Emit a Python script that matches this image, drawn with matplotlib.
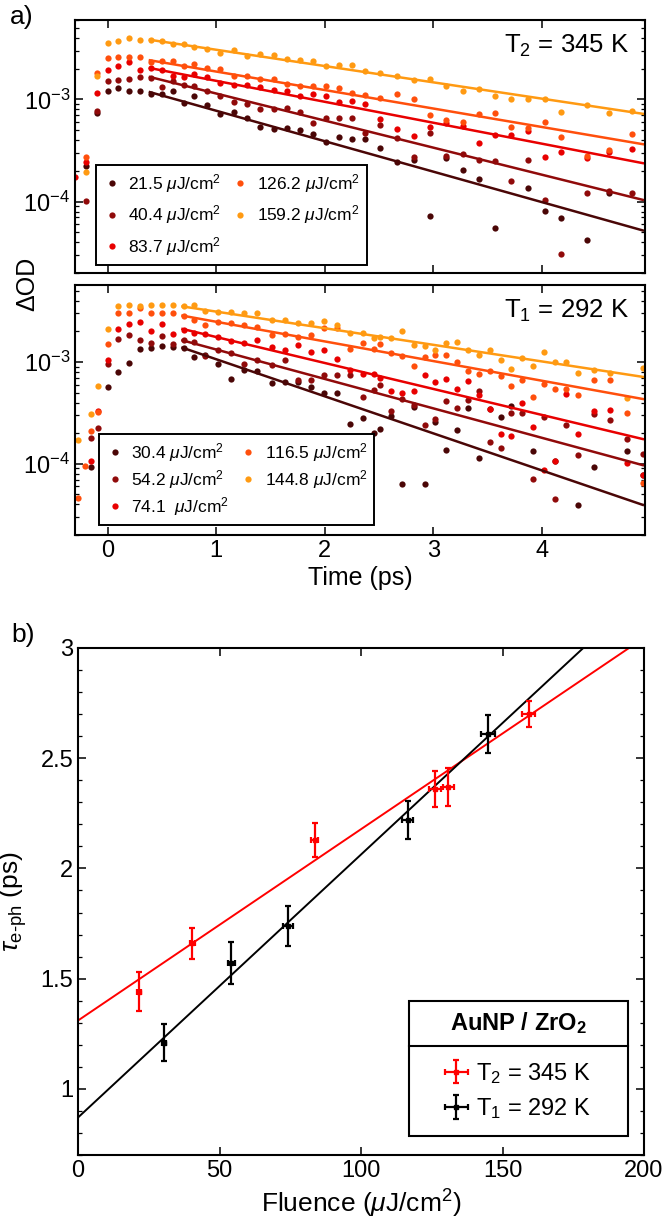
import numpy as np
import matplotlib
matplotlib.use('Agg')
import matplotlib.pyplot as plt
from matplotlib.ticker import LogLocator, NullFormatter, MultipleLocator, FixedLocator
from matplotlib.patches import Rectangle

plt.rcParams['font.family'] = ['Liberation Sans', 'DejaVu Sans']
plt.rcParams['mathtext.fontset'] = 'custom'
plt.rcParams['mathtext.rm'] = 'Liberation Sans'
plt.rcParams['mathtext.it'] = 'Liberation Sans:italic'
plt.rcParams['mathtext.bf'] = 'Liberation Sans:bold'

nan = np.nan

# ---- panel a, upper: T2 = 345 K  (delta OD in units of 1e-3)
fluence_T2 = ['21.5', '40.4', '83.7', '126.2', '159.2']
time_T2 = [-0.3, -0.2, -0.1, 0.0, 0.1, 0.2, 0.3, 0.4, 0.5, 0.6, 0.7, 0.8, 0.92, 1.04,
           1.16, 1.28, 1.40, 1.53, 1.65, 1.77, 1.89, 2.01, 2.13, 2.25, 2.37, 2.51,
           2.67, 2.82, 2.97, 3.12, 3.27, 3.42, 3.57, 3.72, 3.87, 4.03, 4.18, 4.42,
           4.62, 4.83]
dod_T2 = [
    [nan, 0.224, 0.741, 1.22, 1.30, 1.21, 1.21, 1.14, 1.12, 1.21, 0.933, 1.08, 0.881, 0.714,
     0.753, 0.662, 0.542, 0.511, 0.530, 0.502, 0.456, 0.384, 0.430, 0.407, 0.407, 0.333,
     0.245, 0.256, 0.0731, 0.270, 0.203, 0.166, 0.0555, nan, 0.136, 0.0817, 0.0693, 0.0424,
     0.121, nan],
    [nan, 0.102, 0.776, 1.51, 1.54, 1.57, 1.66, 1.63, 1.33, 1.51, 1.38, 1.37, 1.22, 1.08,
     0.942, 0.908, 0.811, 0.811, 0.830, 0.753, 0.583, 0.662, 0.662, 0.653, 0.473, 0.558,
     0.424, 0.274, 0.473, 0.281, 0.291, 0.255, 0.251, 0.160, 0.255, 0.104, 0.0309, 0.121,
     0.128, 0.121],
    [0.173, 0.242, 1.17, 1.93, 2.14, 2.31, 1.96, 2.03, 1.93, 1.69, 1.66, 1.79, 1.66, 1.45,
     1.40, 1.38, 1.32, 1.25, 1.21, 1.09, 1.14, 1.09, 0.948, 0.977, 0.893, 0.649,
     0.511, 0.440, 0.542, 0.593, 0.550, 0.378, 0.450, 0.450, 0.492, 0.274, 0.303, 0.270,
     0.309, 0.330],
    [nan, 0.274, 1.82, 2.55, 2.58, 2.58, 2.58, 2.33, 2.36, 2.36, 2.14, 2.24, 2.03, 1.99,
     1.71, 1.69, 1.57, 1.59, 1.43, 1.37, 1.35, 1.37, 1.30, 1.16, 1.10, 1.04,
     1.14, 1.02, 0.703, 0.624, 0.605, 0.714, 0.731, 0.542, 0.530, 0.601, 0.430, 0.281,
     0.318, 0.463],
    [nan, 0.197, 1.70, 3.56, 3.76, 3.98, 3.78, 3.84, 3.70, 3.51, 3.48, 3.26, 3.14, 2.85,
     3.03, 2.69, 2.79, 2.70, 2.49, 2.42, 2.36, 2.14, 2.19, 2.16, 1.91, 1.82,
     1.69, 1.54, 1.57, 1.35, 1.22, 1.28, 1.08, 1.02, 1.02, 1.01, 0.759, 0.881,
     0.741, 0.764],
]
fit_T2_time = [0.39, 4.93]
fit_T2 = [[1.18, 0.0522], [1.66, 0.104], [2.03, 0.238], [2.42, 0.365], [3.84, 0.724]]

# ---- panel a, lower: T1 = 292 K
fluence_T1 = ['30.4', '54.2', '74.1 ', '116.5', '144.8']
time_T1 = [-0.27, -0.21, -0.15, -0.09, 0.0, 0.1, 0.2, 0.3, 0.4, 0.5, 0.6, 0.7, 0.8, 0.9,
           1.02, 1.14, 1.26, 1.38, 1.51, 1.63, 1.75, 1.87, 1.99, 2.11, 2.23, 2.35, 2.45,
           2.51, 2.61, 2.71, 2.82, 2.92, 3.02, 3.12, 3.22, 3.32, 3.42, 3.52, 3.62, 3.72,
           3.82, 3.92, 4.02, 4.12, 4.22, 4.33, 4.48, 4.63, 4.78, 4.93]
dod_T1 = [
    [nan, nan, 0.0936, nan, 0.562, 0.80, 0.986, 1.35, 1.38, 1.42, 1.40, 1.37, 1.12, 1.16,
     0.964, 0.673, 0.830, 0.817, 0.615, 0.638, 0.630, 0.562, 0.499, 0.499, 0.245, 0.281, 0.200,
     0.219, 0.296, 0.063, 0.365, 0.063, 0.255, 0.138, 0.216, 0.351, 0.114, 0.346, 0.291, 0.370,
     nan, 0.133, nan, 0.106, nan, 0.0393, 0.0929, nan, 0.135, 0.0776],
    [nan, nan, 0.179, 0.224, 0.948, 1.69, 1.85, 1.65, 1.54, 1.78, 1.51, 1.63, 1.57, 1.14,
     1.30, 1.22, 0.964, 1.04, 0.929, 1.04, 0.662, 0.662, 0.753, 0.753, 0.753, 0.456, 0.530,
     0.593, 0.331, 0.430, 0.378, 0.238, 0.274, 0.414, 0.351, 0.424, 0.518, 0.163, 0.143, 0.314,
     0.314, 0.0703, 0.291, 0.045, 0.242, 0.123, 0.307, 0.270, 0.175, 0.126],
    [nan, nan, 0.106, 0.333, 1.04, 2.11, 2.36, 2.45, 2.03, 2.36, 1.89, 2.08, 1.93, 1.89,
     1.75, 1.59, 1.54, 1.63, 1.40, 1.32, 1.48, 1.25, 1.32, 1.08, 0.830, 0.769, 0.769,
     0.698, 0.518, 0.492, 0.518, 0.741, 0.638, 0.678, 0.538, 0.649, 0.473, 0.344, 0.197, 0.189,
     0.399, 0.228, 0.0861, 0.106, 0.481, 0.197, 0.331, 0.339, 0.102, 0.0776],
    [0.0459, 0.0948, 0.208, 0.325, 1.51, 3.03, 3.03, 3.36, 3.03, 3.03, 3.03, 2.85, 2.58, 2.31,
     2.49, 2.42, 2.31, 2.19, 1.85, 1.89, 1.75, 1.85, 2.14, 2.14, 1.35, 1.54, 1.33,
     1.51, 1.22, 1.14, 0.908, 1.12, 1.18, 1.16, 1.0, 0.817, 0.759, 0.817, 0.724, 0.579,
     0.662, 0.450, 0.605, 0.538, 0.538, 0.473, 0.662, 0.662, 0.314, 0.0643],
    [0.173, nan, 0.307, 0.579, 2.11, 3.51, 3.61, 3.56, 3.61, 3.61, 3.61, 3.51, 3.61, 3.18,
     3.07, 3.07, 3.03, 3.03, 2.61, 2.58, 2.40, 2.40, 2.51, 2.31, 1.93, 1.93, 1.71,
     1.75, 1.73, 2.03, 1.48, 1.43, 1.30, 1.54, 1.57, 1.30, 1.18, 1.32, 1.04, 0.861,
     1.09, 0.908, 1.25, 1.01, 1.0, 0.787, 0.830, 0.787, 0.446, 0.881],
]
fit_T1_time = [0.69, 4.93]
fit_T1 = [[1.38, 0.0395], [1.63, 0.097], [2.11, 0.175], [2.85, 0.433], [3.51, 0.714]]

series_colours = ['#4a0606', '#900a0a', '#e80000', '#ff4f0c', '#ff9a12']

# ---- panel b: electron-phonon time vs fluence
fluence_b_T2 = [21.5, 40.4, 83.7, 126.2, 130.8, 159.2]
tau_b_T2 = [1.44, 1.66, 2.13, 2.36, 2.37, 2.70]
tau_err_T2 = [0.088, 0.07, 0.076, 0.08, 0.085, 0.06]
flu_err_T2 = [0.6, 0.8, 1.2, 2.0, 2.0, 2.2]
fluence_b_T1 = [30.4, 54.2, 74.1, 116.5, 144.8]
tau_b_T1 = [1.21, 1.57, 1.74, 2.22, 2.61]
tau_err_T1 = [0.083, 0.095, 0.09, 0.085, 0.087]
flu_err_T1 = [0.8, 1.2, 1.8, 2.0, 2.5]
fit_b_x = [0, 200]
fit_b_T2 = [1.31, 3.046]
fit_b_T1 = [0.87, 3.256]
b_xticks = [0, 50, 100, 150, 200]
b_yticks = [1, 1.5, 2, 2.5, 3]
b_yticklabels = ['1', '1.5', '2', '2.5', '3']

W, H = 665, 1221
fig = plt.figure(figsize=(W / 100, H / 100), dpi=100)


def frac(left, top, right, bottom):
    return [left / W, 1 - bottom / H, (right - left) / W, (bottom - top) / H]


def style(ax, size):
    ax.tick_params(which='both', direction='in', top=True, right=True, labelsize=size)
    ax.tick_params(which='major', length=6, width=1.1)
    ax.tick_params(which='minor', length=3, width=0.9)
    for s in ax.spines.values():
        s.set_linewidth(1.5)


def dod_panel(ax, t, data, fl, fit_t, fits, tag, ylim, leg_anchor, leg_space):
    for vals, colour, f in zip(data, series_colours, fl):
        ax.plot(t, np.array(vals) * 1e-3, 'o', ms=4.5, mfc=colour, mec='none',
                label=f + r' $\mu$J/cm$^2$')
    for fit, colour in zip(fits, series_colours):
        ax.plot(fit_t, np.array(fit) * 1e-3, '-', color=colour, lw=1.8)
    ax.set_yscale('log')
    ax.set_xlim(-0.3, 4.95)
    ax.set_ylim(*ylim)
    ax.yaxis.set_major_locator(LogLocator(base=10))
    ax.yaxis.set_minor_locator(LogLocator(base=10, subs=np.arange(2, 10)))
    ax.yaxis.set_minor_formatter(NullFormatter())
    ax.set_xticks([0, 1, 2, 3, 4])
    style(ax, 17)
    ax.text(0.972, 0.95, tag, transform=ax.transAxes, ha='right', va='top', fontsize=18.5)
    leg = ax.legend(ncol=2, loc='lower left', bbox_to_anchor=leg_anchor, fontsize=12.5,
                    frameon=True, fancybox=False, edgecolor='black', framealpha=1,
                    handlelength=1.0, handletextpad=0.45, columnspacing=0.6,
                    labelspacing=leg_space, borderpad=0.4, borderaxespad=0)
    leg.get_frame().set_linewidth(1.4)


ax1 = fig.add_axes(frac(75, 20, 645, 273))
dod_panel(ax1, time_T2, dod_T2, fluence_T2, fit_T2_time, fit_T2, 'T$_2$ = 345 K',
          (2e-5, 6e-3), (0.037, 0.032), 0.5)
ax1.tick_params(labelbottom=False)

ax2 = fig.add_axes(frac(75, 285, 645, 535))
dod_panel(ax2, time_T1, dod_T1, fluence_T1, fit_T1_time, fit_T1, 'T$_1$ = 292 K',
          (2e-5, 5.7e-3), (0.042, 0.04), 0.25)
ax2.set_xlabel('Time (ps)', fontsize=18, labelpad=3)

fig.text(27 / W, 1 - 284 / H, 'ΔOD', rotation=90, ha='center', va='center', fontsize=18)
fig.text(22 / W, 1 - 17 / H, 'a)', ha='center', va='center', fontsize=19)
fig.text(23 / W, 1 - 635 / H, 'b)', ha='center', va='center', fontsize=19)

# ---- panel b
ax3 = fig.add_axes(frac(78, 648, 644, 1155))
ax3.plot(fit_b_x, fit_b_T2, '-', color='#ff0000', lw=1.4)
ax3.plot(fit_b_x, fit_b_T1, '-', color='black', lw=1.4)
h2 = ax3.errorbar(fluence_b_T2, tau_b_T2, yerr=tau_err_T2, xerr=flu_err_T2, fmt='s',
                  ms=3, color='#ff0000', capsize=2.5, elinewidth=1.6, capthick=1.6)
h1 = ax3.errorbar(fluence_b_T1, tau_b_T1, yerr=tau_err_T1, xerr=flu_err_T1, fmt='s',
                  ms=3, color='black', capsize=2.5, elinewidth=1.6, capthick=1.6)
ax3.set_xlim(0, 200)
ax3.set_ylim(0.7, 3)
ax3.set_xticks(b_xticks)
ax3.yaxis.set_major_locator(FixedLocator(b_yticks))
ax3.set_yticklabels(b_yticklabels)
ax3.yaxis.set_minor_locator(MultipleLocator(0.1))
style(ax3, 17)
ax3.set_xlabel(r'Fluence ($\mu$J/cm$^2$)', fontsize=19, labelpad=4)
ax3.set_ylabel(r'$\tau_{\text{e-ph}}$ (ps)', fontsize=19, labelpad=8)

# MATLAB-style legend box with a title row
bx0 = (409 - 78) / 566
by0 = (1155 - 1136) / 507
bw = (628 - 409) / 566
bh = (1136 - 1001) / 507
ysep = (1155 - 1046) / 507
ax3.add_patch(Rectangle((bx0, by0), bw, bh, transform=ax3.transAxes, fc='white',
                        ec='black', lw=1.5, zorder=4))
ax3.plot([bx0, bx0 + bw], [ysep, ysep], color='black', lw=1.5,
         transform=ax3.transAxes, zorder=4.5)
ax3.text(bx0 + bw / 2, (ysep + by0 + bh) / 2, r'AuNP / ZrO$_\mathbf{2}$',
         transform=ax3.transAxes, ha='center', va='center', fontsize=17,
         fontweight='bold', zorder=6)
ax3.legend([h2, h1], ['T$_2$ = 345 K', 'T$_1$ = 292 K'], loc='center',
           bbox_to_anchor=(bx0 + bw / 2, (by0 + ysep) / 2), frameon=False, fontsize=17,
           handlelength=0.9, handletextpad=0.4, labelspacing=0.45, borderaxespad=0)

fig.savefig('out.png', dpi=100)
